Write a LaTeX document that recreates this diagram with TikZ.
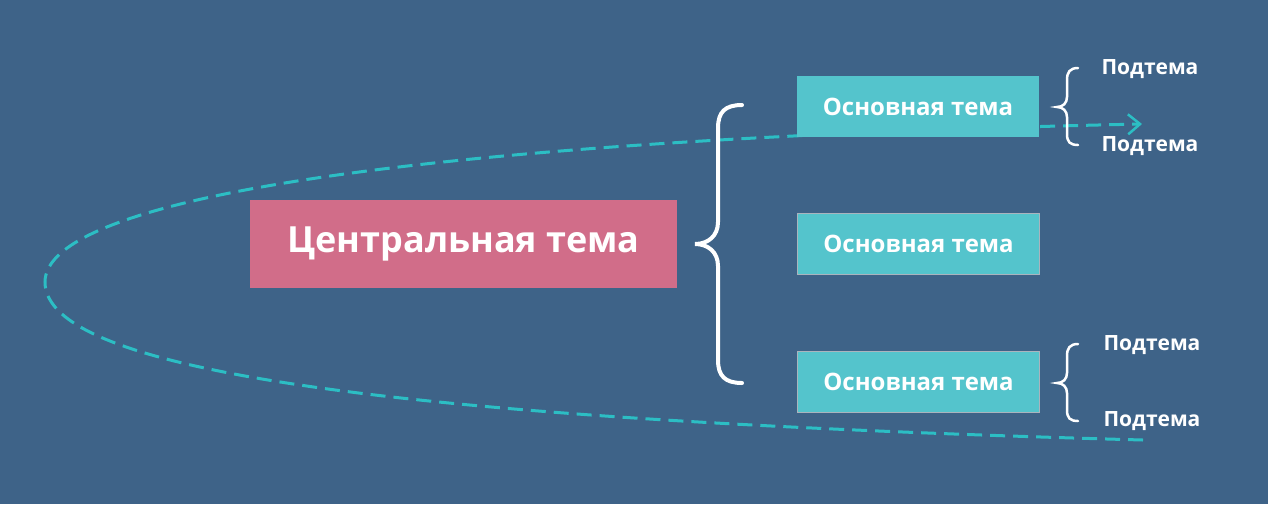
\documentclass[tikz,border=0pt]{standalone}
\usepackage{fontspec}
\setmainfont{Open Sans}
\usetikzlibrary{arrows.meta}
\definecolor{bgblue}{RGB}{62,99,136}
\definecolor{centralpink}{RGB}{209,109,137}
\definecolor{maincyan}{RGB}{84,196,204}
\definecolor{loopcyan}{RGB}{44,190,196}
\definecolor{edgegray}{RGB}{170,180,190}
\begin{document}
\begin{tikzpicture}[x=1pt,y=-1pt,
    central/.style={fill=centralpink,text=white,minimum width=427pt,minimum height=88pt,inner sep=0pt,font=\fontsize{36}{40}\selectfont\bfseries},
    maintopic/.style={fill=maincyan,text=white,minimum width=242pt,minimum height=61pt,inner sep=0pt,font=\fontsize{24}{28}\selectfont\bfseries},
    subtopic/.style={text=white,inner sep=0pt,font=\fontsize{21}{25}\selectfont\bfseries},
    bigbrace/.style={draw=white,line width=4pt,line cap=round},
    smallbrace/.style={draw=white,line width=2.5pt,line cap=round},
    loopline/.style={draw=loopcyan,line width=3pt,dash pattern=on 15pt off 8pt,-{Straight Barb[length=12pt,width=20pt,line width=2.5pt]}}]
    % \clip (0,0) rectangle (1268,504);
    \fill[bgblue] (0,0) rectangle (1268,504);
    \useasboundingbox (0,0) rectangle (1268,504);

    % Drawing the dashed loop
    \coordinate (loopstart) at (1143,440);
    \coordinate (looptip) at (45,282);
    \coordinate (loopend) at (1142,124);
    \draw[loopline] (loopstart) .. controls (400,420) and (45,372) .. (looptip) .. controls (45,200) and (400,140) .. (loopend);

    % Central topic
    \node[central] (center) at (463.5,244) {Центральная тема};

    % Main topics
    \node[maintopic] (main1) at (918,106.5) {Основная тема};
    \node[maintopic,draw=edgegray,line width=1.5pt] (main2) at (918.5,244) {Основная тема};
    \node[maintopic,draw=edgegray,line width=1.5pt] (main3) at (918.5,382) {Основная тема};

    % Drawing the big brace
    \draw[bigbrace] (742,105) .. controls (725,105) and (718,112) .. (718,128) -- (718,222)
        .. controls (718,236) and (708,244) .. (695,244)
        .. controls (708,244) and (718,252) .. (718,266) -- (718,360)
        .. controls (718,376) and (725,383) .. (742,383);

    % Drawing the small braces
    \foreach \ty in {107,383}{
        \draw[smallbrace] (1078,\ty-39) .. controls (1070,\ty-39) and (1067,\ty-35) .. (1067,\ty-27) -- (1067,\ty-10)
            .. controls (1067,\ty-4) and (1063,\ty) .. (1057,\ty)
            .. controls (1063,\ty) and (1067,\ty+4) .. (1067,\ty+10) -- (1067,\ty+27)
            .. controls (1067,\ty+35) and (1070,\ty+38) .. (1078,\ty+38);
    }

    % Subtopics
    \node[subtopic] (sub1) at (1150,69) {Подтема};
    \node[subtopic] (sub2) at (1150,146) {Подтема};
    \node[subtopic] (sub3) at (1152,345) {Подтема};
    \node[subtopic] (sub4) at (1152,421) {Подтема};
\end{tikzpicture}
\end{document}
